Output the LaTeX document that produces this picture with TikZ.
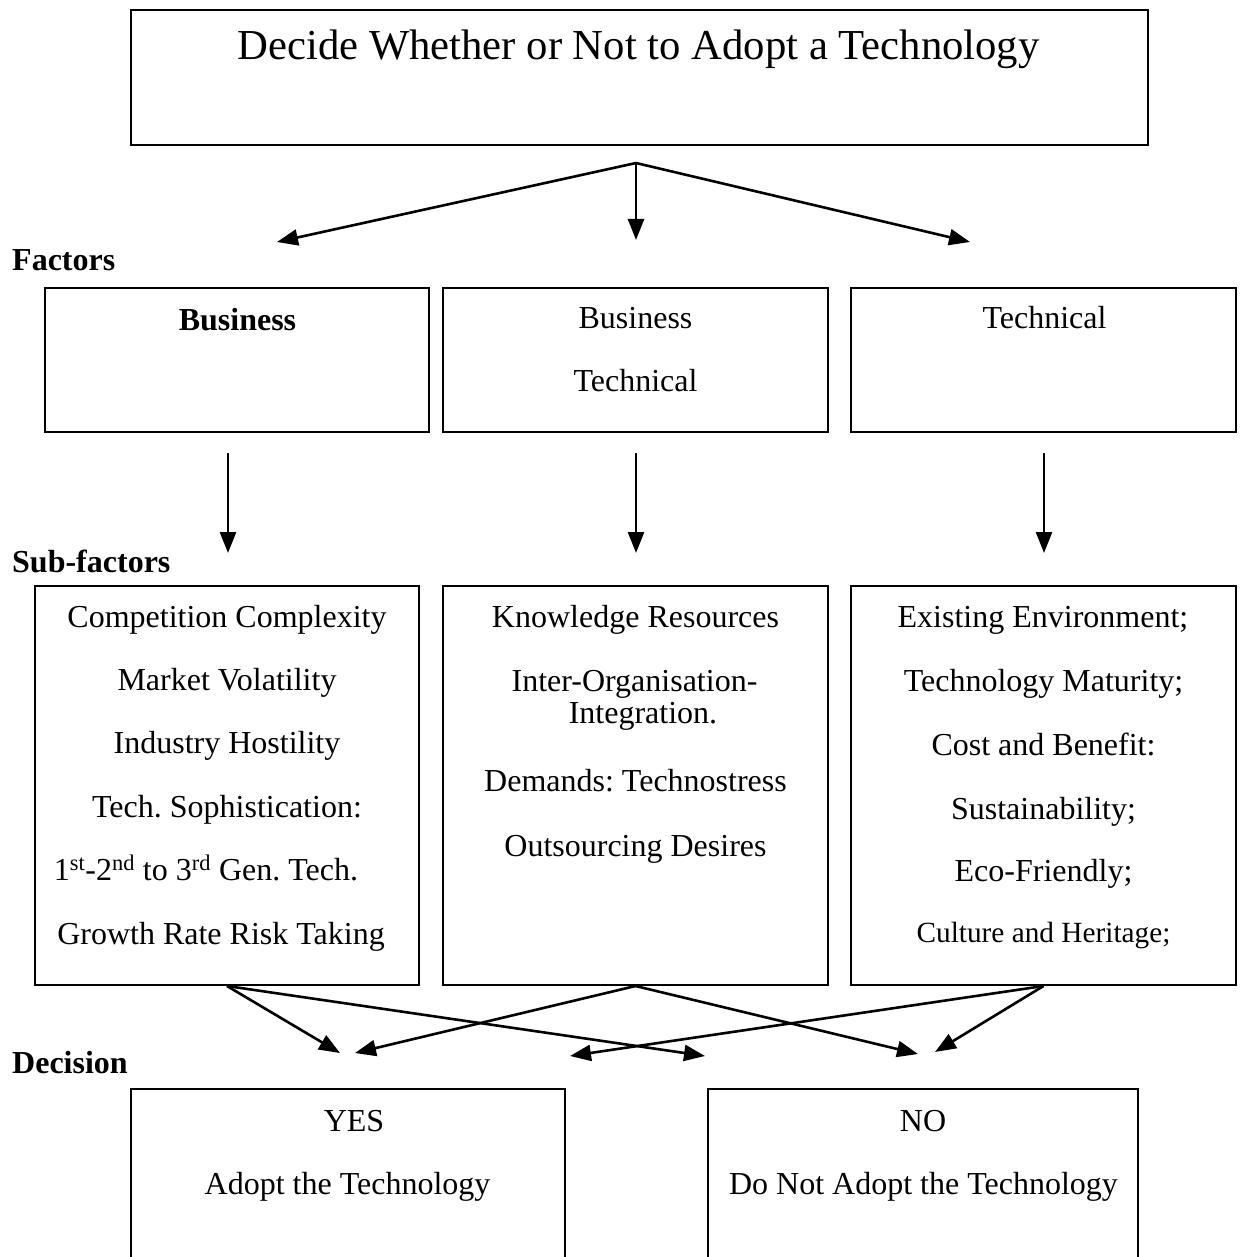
\documentclass[tikz,border=0pt]{standalone}
\usepackage{fontspec}
\setmainfont{Liberation Serif}
\usetikzlibrary{arrows.meta}
\frenchspacing

\tikzset{
  frame/.style={draw=black, line width=2pt, rectangle, inner sep=0pt},
  txt/.style={inner sep=0pt, anchor=base, font=\fontsize{32}{38}\selectfont},
  small/.style={inner sep=0pt, anchor=base, font=\fontsize{29.3}{35}\selectfont},
  big/.style={inner sep=0pt, anchor=base, font=\fontsize{42.7}{50}\selectfont},
  lvl/.style={inner sep=0pt, anchor=base west, font=\fontsize{32}{38}\selectfont\bfseries},
  arr/.style={line width=2.6pt, -{Triangle[length=21pt,width=16pt]}}
}

\begin{document}
\begin{tikzpicture}[x=1pt, y=-1pt]
\useasboundingbox (0,0) rectangle (1243,1257);

% top decision box
\node[frame, minimum width=1017pt, minimum height=135pt] (top) at (639.5,77.5) {};
\node[big] (title) at (638.5,60) {Decide Whether or Not to Adopt a Technology};

% fan of arrows to the factor row
\coordinate (split) at (636,163);
\coordinate (fl) at (277,242);
\coordinate (fm) at (636,240);
\coordinate (fr) at (970,242);
\draw[arr] (split) -- (fl);
\draw[arr] (split) -- (fm);
\draw[arr] (split) -- (fr);

% row labels
\node[lvl] (lfac) at (12,270) {Factors};
\node[lvl] (lsub) at (12,572) {Sub-factors};
\node[lvl] (ldec) at (12,1073) {Decision};

% factor boxes
\node[frame, minimum width=384pt, minimum height=144pt] (f1) at (237,360) {};
\node[frame, minimum width=385pt, minimum height=144pt] (f2) at (635.5,360) {};
\node[frame, minimum width=385pt, minimum height=144pt] (f3) at (1043.5,360) {};
\node[txt, font=\fontsize{32}{38}\selectfont\bfseries] (f1a) at (237.5,330) {Business};
\node[txt] (f2a) at (635.5,328) {Business};
\node[txt] (f2b) at (635.5,391) {Technical};
\node[txt] (f3a) at (1044.5,328) {Technical};

% arrows between the rows
\coordinate (d1s) at (228,453); \coordinate (d1e) at (228,553);
\coordinate (d2s) at (636,453); \coordinate (d2e) at (636,553);
\coordinate (d3s) at (1044,453); \coordinate (d3e) at (1044,553);
\draw[arr] (d1s) -- (d1e);
\draw[arr] (d2s) -- (d2e);
\draw[arr] (d3s) -- (d3e);

% sub-factor boxes
\node[frame, minimum width=384pt, minimum height=399pt] (s1) at (227,785.5) {};
\node[frame, minimum width=385pt, minimum height=399pt] (s2) at (635.5,785.5) {};
\node[frame, minimum width=385pt, minimum height=399pt] (s3) at (1043.5,785.5) {};

\node[txt] (s1a) at (227,627) {Competition Complexity};
\node[txt] (s1b) at (227,690) {Market Volatility};
\node[txt] (s1c) at (227,753) {Industry Hostility};
\node[txt] (s1d) at (227,817) {Tech. Sophistication:};
\node[txt] (s1e) at (206,880) {1\textsuperscript{st}-2\textsuperscript{nd} to 3\textsuperscript{rd} Gen. Tech.};
\node[txt] (s1f) at (221,944) {Growth Rate Risk Taking};

\node[txt] (s2a) at (635.5,627) {Knowledge Resources};
\node[txt] (s2b) at (634.5,691) {Inter-Organisation-};
\node[txt] (s2c) at (643,723) {Integration.};
\node[txt] (s2d) at (635.5,791) {Demands: Technostress};
\node[txt] (s2e) at (635.5,856) {Outsourcing Desires};

\node[txt] (s3a) at (1043,627) {Existing Environment;};
\node[txt] (s3b) at (1043.5,691) {Technology Maturity;};
\node[txt] (s3c) at (1043.5,755) {Cost and Benefit:};
\node[txt] (s3d) at (1043.5,819) {Sustainability;};
\node[txt] (s3e) at (1043.5,881) {Eco-Friendly;};
\node[small] (s3f) at (1043.5,942) {Culture and Heritage;};

% crossing arrows to the decision row
\coordinate (t1) at (340,1053);
\coordinate (t2) at (355,1053);
\coordinate (t3) at (570,1056);
\coordinate (t4) at (705,1056);
\coordinate (t5) at (918,1054);
\coordinate (t6) at (935,1052);
\draw[arr] (s1.south) -- (t1);
\draw[arr] (s1.south) -- (t4);
\draw[arr] (s2.south) -- (t2);
\draw[arr] (s2.south) -- (t5);
\draw[arr] (s3.south) -- (t3);
\draw[arr] (s3.south) -- (t6);

% decision boxes (running past the lower edge)
\node[frame, minimum width=434pt, minimum height=240pt] (yes) at (348,1209) {};
\node[frame, minimum width=430pt, minimum height=240pt] (no) at (923,1209) {};
\node[txt] (yesa) at (354,1131) {YES};
\node[txt] (yesb) at (347.5,1194) {Adopt the Technology};
\node[txt] (noa) at (923,1131) {NO};
\node[txt] (nob) at (923.5,1194) {Do Not Adopt the Technology};
\end{tikzpicture}
\end{document}
